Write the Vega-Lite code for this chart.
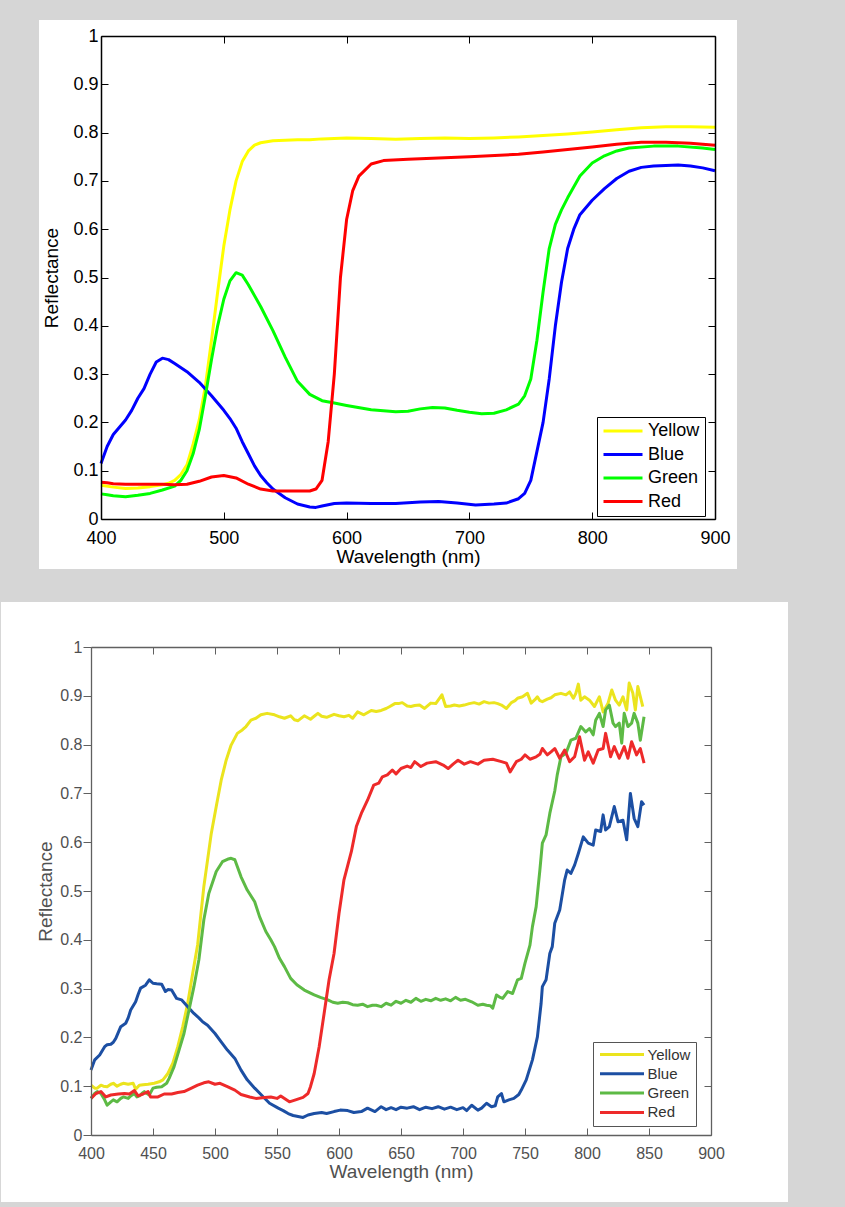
{
"$schema": "https://vega.github.io/schema/vega-lite/v6.json",
"background": "#d6d6d6",
"padding": {"left": 0, "top": 20, "right": 58, "bottom": 5},
"spacing": 33,
"config": {"view": {"stroke": null}, "font": "Liberation Sans", "axis": {"grid": false, "zindex": 1, "labelFont": "Liberation Sans", "titleFont": "Liberation Sans", "titleFontWeight": "normal"}, "legend": {"labelFont": "Liberation Sans"}},
"resolve": {"scale": {"color": "independent"}, "legend": {"color": "independent"}},
"datasets": {
"top": [
{"s":"Yellow","w":400,"r":0.070},{"s":"Yellow","w":410,"r":0.066},{"s":"Yellow","w":420,"r":0.063},{"s":"Yellow","w":430,"r":0.064},{"s":"Yellow","w":440,"r":0.067},{"s":"Yellow","w":450,"r":0.071},{"s":"Yellow","w":455,"r":0.074},{"s":"Yellow","w":460,"r":0.080},{"s":"Yellow","w":465,"r":0.092},{"s":"Yellow","w":470,"r":0.112},{"s":"Yellow","w":475,"r":0.155},{"s":"Yellow","w":480,"r":0.205},{"s":"Yellow","w":485,"r":0.275},{"s":"Yellow","w":490,"r":0.37},{"s":"Yellow","w":495,"r":0.47},{"s":"Yellow","w":500,"r":0.565},{"s":"Yellow","w":505,"r":0.64},{"s":"Yellow","w":510,"r":0.70},{"s":"Yellow","w":515,"r":0.74},{"s":"Yellow","w":520,"r":0.762},{"s":"Yellow","w":525,"r":0.774},{"s":"Yellow","w":530,"r":0.779},{"s":"Yellow","w":540,"r":0.783},{"s":"Yellow","w":550,"r":0.784},{"s":"Yellow","w":560,"r":0.785},{"s":"Yellow","w":570,"r":0.785},{"s":"Yellow","w":580,"r":0.787},{"s":"Yellow","w":590,"r":0.788},{"s":"Yellow","w":600,"r":0.789},{"s":"Yellow","w":620,"r":0.788},{"s":"Yellow","w":640,"r":0.786},{"s":"Yellow","w":660,"r":0.788},{"s":"Yellow","w":680,"r":0.789},{"s":"Yellow","w":700,"r":0.788},{"s":"Yellow","w":720,"r":0.789},{"s":"Yellow","w":740,"r":0.791},{"s":"Yellow","w":760,"r":0.794},{"s":"Yellow","w":780,"r":0.797},{"s":"Yellow","w":800,"r":0.801},{"s":"Yellow","w":820,"r":0.806},{"s":"Yellow","w":840,"r":0.810},{"s":"Yellow","w":860,"r":0.812},{"s":"Yellow","w":880,"r":0.812},{"s":"Yellow","w":900,"r":0.811},
{"s":"Blue","w":400,"r":0.115},{"s":"Blue","w":405,"r":0.15},{"s":"Blue","w":410,"r":0.175},{"s":"Blue","w":415,"r":0.19},{"s":"Blue","w":420,"r":0.205},{"s":"Blue","w":425,"r":0.225},{"s":"Blue","w":430,"r":0.25},{"s":"Blue","w":435,"r":0.27},{"s":"Blue","w":440,"r":0.30},{"s":"Blue","w":445,"r":0.325},{"s":"Blue","w":450,"r":0.333},{"s":"Blue","w":455,"r":0.330},{"s":"Blue","w":460,"r":0.322},{"s":"Blue","w":470,"r":0.305},{"s":"Blue","w":480,"r":0.283},{"s":"Blue","w":490,"r":0.255},{"s":"Blue","w":500,"r":0.225},{"s":"Blue","w":505,"r":0.208},{"s":"Blue","w":510,"r":0.188},{"s":"Blue","w":515,"r":0.16},{"s":"Blue","w":520,"r":0.135},{"s":"Blue","w":525,"r":0.11},{"s":"Blue","w":530,"r":0.09},{"s":"Blue","w":535,"r":0.075},{"s":"Blue","w":540,"r":0.062},{"s":"Blue","w":550,"r":0.044},{"s":"Blue","w":560,"r":0.031},{"s":"Blue","w":570,"r":0.025},{"s":"Blue","w":575,"r":0.024},{"s":"Blue","w":580,"r":0.027},{"s":"Blue","w":590,"r":0.032},{"s":"Blue","w":600,"r":0.033},{"s":"Blue","w":620,"r":0.032},{"s":"Blue","w":640,"r":0.032},{"s":"Blue","w":660,"r":0.035},{"s":"Blue","w":675,"r":0.036},{"s":"Blue","w":690,"r":0.033},{"s":"Blue","w":705,"r":0.029},{"s":"Blue","w":720,"r":0.031},{"s":"Blue","w":730,"r":0.033},{"s":"Blue","w":740,"r":0.042},{"s":"Blue","w":745,"r":0.053},{"s":"Blue","w":750,"r":0.08},{"s":"Blue","w":755,"r":0.14},{"s":"Blue","w":760,"r":0.20},{"s":"Blue","w":765,"r":0.29},{"s":"Blue","w":770,"r":0.40},{"s":"Blue","w":775,"r":0.49},{"s":"Blue","w":780,"r":0.56},{"s":"Blue","w":785,"r":0.60},{"s":"Blue","w":790,"r":0.63},{"s":"Blue","w":800,"r":0.66},{"s":"Blue","w":810,"r":0.684},{"s":"Blue","w":820,"r":0.705},{"s":"Blue","w":830,"r":0.72},{"s":"Blue","w":840,"r":0.728},{"s":"Blue","w":850,"r":0.731},{"s":"Blue","w":860,"r":0.732},{"s":"Blue","w":870,"r":0.733},{"s":"Blue","w":880,"r":0.731},{"s":"Blue","w":890,"r":0.727},{"s":"Blue","w":900,"r":0.721},
{"s":"Green","w":400,"r":0.052},{"s":"Green","w":405,"r":0.050},{"s":"Green","w":410,"r":0.048},{"s":"Green","w":420,"r":0.046},{"s":"Green","w":430,"r":0.049},{"s":"Green","w":440,"r":0.053},{"s":"Green","w":450,"r":0.060},{"s":"Green","w":460,"r":0.068},{"s":"Green","w":465,"r":0.080},{"s":"Green","w":470,"r":0.10},{"s":"Green","w":475,"r":0.135},{"s":"Green","w":480,"r":0.185},{"s":"Green","w":485,"r":0.255},{"s":"Green","w":490,"r":0.33},{"s":"Green","w":495,"r":0.40},{"s":"Green","w":500,"r":0.455},{"s":"Green","w":505,"r":0.493},{"s":"Green","w":510,"r":0.510},{"s":"Green","w":515,"r":0.505},{"s":"Green","w":520,"r":0.485},{"s":"Green","w":530,"r":0.44},{"s":"Green","w":540,"r":0.39},{"s":"Green","w":550,"r":0.335},{"s":"Green","w":560,"r":0.285},{"s":"Green","w":570,"r":0.258},{"s":"Green","w":580,"r":0.245},{"s":"Green","w":590,"r":0.240},{"s":"Green","w":600,"r":0.235},{"s":"Green","w":620,"r":0.226},{"s":"Green","w":640,"r":0.222},{"s":"Green","w":650,"r":0.223},{"s":"Green","w":660,"r":0.228},{"s":"Green","w":670,"r":0.231},{"s":"Green","w":680,"r":0.230},{"s":"Green","w":690,"r":0.225},{"s":"Green","w":700,"r":0.221},{"s":"Green","w":710,"r":0.218},{"s":"Green","w":720,"r":0.219},{"s":"Green","w":730,"r":0.226},{"s":"Green","w":740,"r":0.238},{"s":"Green","w":745,"r":0.255},{"s":"Green","w":750,"r":0.29},{"s":"Green","w":755,"r":0.37},{"s":"Green","w":760,"r":0.47},{"s":"Green","w":765,"r":0.56},{"s":"Green","w":770,"r":0.61},{"s":"Green","w":775,"r":0.64},{"s":"Green","w":780,"r":0.665},{"s":"Green","w":790,"r":0.71},{"s":"Green","w":800,"r":0.737},{"s":"Green","w":810,"r":0.752},{"s":"Green","w":820,"r":0.762},{"s":"Green","w":830,"r":0.768},{"s":"Green","w":850,"r":0.772},{"s":"Green","w":870,"r":0.772},{"s":"Green","w":890,"r":0.768},{"s":"Green","w":900,"r":0.765},
{"s":"Red","w":400,"r":0.076},{"s":"Red","w":405,"r":0.075},{"s":"Red","w":410,"r":0.073},{"s":"Red","w":420,"r":0.072},{"s":"Red","w":430,"r":0.072},{"s":"Red","w":440,"r":0.072},{"s":"Red","w":450,"r":0.072},{"s":"Red","w":460,"r":0.071},{"s":"Red","w":470,"r":0.072},{"s":"Red","w":480,"r":0.078},{"s":"Red","w":490,"r":0.087},{"s":"Red","w":500,"r":0.090},{"s":"Red","w":510,"r":0.085},{"s":"Red","w":520,"r":0.072},{"s":"Red","w":530,"r":0.062},{"s":"Red","w":540,"r":0.058},{"s":"Red","w":550,"r":0.058},{"s":"Red","w":560,"r":0.058},{"s":"Red","w":570,"r":0.058},{"s":"Red","w":575,"r":0.062},{"s":"Red","w":580,"r":0.080},{"s":"Red","w":585,"r":0.16},{"s":"Red","w":590,"r":0.30},{"s":"Red","w":595,"r":0.50},{"s":"Red","w":600,"r":0.62},{"s":"Red","w":605,"r":0.68},{"s":"Red","w":610,"r":0.71},{"s":"Red","w":620,"r":0.735},{"s":"Red","w":630,"r":0.742},{"s":"Red","w":650,"r":0.745},{"s":"Red","w":700,"r":0.750},{"s":"Red","w":740,"r":0.755},{"s":"Red","w":760,"r":0.760},{"s":"Red","w":780,"r":0.765},{"s":"Red","w":800,"r":0.770},{"s":"Red","w":820,"r":0.776},{"s":"Red","w":840,"r":0.780},{"s":"Red","w":860,"r":0.780},{"s":"Red","w":880,"r":0.778},{"s":"Red","w":900,"r":0.774}
],
"bottom": [
{"s":"Yellow","w":400,"r":0.102},{"s":"Yellow","w":403,"r":0.096},{"s":"Yellow","w":405,"r":0.096},{"s":"Yellow","w":408,"r":0.102},{"s":"Yellow","w":410,"r":0.100},{"s":"Yellow","w":413,"r":0.099},{"s":"Yellow","w":416,"r":0.104},{"s":"Yellow","w":418,"r":0.106},{"s":"Yellow","w":421,"r":0.100},{"s":"Yellow","w":424,"r":0.104},{"s":"Yellow","w":426,"r":0.106},{"s":"Yellow","w":430,"r":0.104},{"s":"Yellow","w":434,"r":0.106},{"s":"Yellow","w":436,"r":0.094},{"s":"Yellow","w":439,"r":0.102},{"s":"Yellow","w":442,"r":0.103},{"s":"Yellow","w":446,"r":0.104},{"s":"Yellow","w":451,"r":0.106},{"s":"Yellow","w":455,"r":0.109},{"s":"Yellow","w":458,"r":0.113},{"s":"Yellow","w":462,"r":0.126},{"s":"Yellow","w":466,"r":0.147},{"s":"Yellow","w":470,"r":0.181},{"s":"Yellow","w":474,"r":0.222},{"s":"Yellow","w":478,"r":0.270},{"s":"Yellow","w":482,"r":0.331},{"s":"Yellow","w":486,"r":0.39},{"s":"Yellow","w":491,"r":0.509},{"s":"Yellow","w":497,"r":0.618},{"s":"Yellow","w":501,"r":0.673},{"s":"Yellow","w":505,"r":0.727},{"s":"Yellow","w":509,"r":0.768},{"s":"Yellow","w":513,"r":0.799},{"s":"Yellow","w":518,"r":0.823},{"s":"Yellow","w":522,"r":0.830},{"s":"Yellow","w":525,"r":0.837},{"s":"Yellow","w":529,"r":0.850},{"s":"Yellow","w":533,"r":0.854},{"s":"Yellow","w":537,"r":0.861},{"s":"Yellow","w":542,"r":0.864},{"s":"Yellow","w":548,"r":0.861},{"s":"Yellow","w":552,"r":0.857},{"s":"Yellow","w":556,"r":0.854},{"s":"Yellow","w":561,"r":0.859},{"s":"Yellow","w":564,"r":0.851},{"s":"Yellow","w":567,"r":0.849},{"s":"Yellow","w":572,"r":0.859},{"s":"Yellow","w":577,"r":0.852},{"s":"Yellow","w":580,"r":0.858},{"s":"Yellow","w":583,"r":0.864},{"s":"Yellow","w":586,"r":0.858},{"s":"Yellow","w":590,"r":0.856},{"s":"Yellow","w":596,"r":0.862},{"s":"Yellow","w":600,"r":0.859},{"s":"Yellow","w":604,"r":0.857},{"s":"Yellow","w":608,"r":0.860},{"s":"Yellow","w":611,"r":0.854},{"s":"Yellow","w":615,"r":0.867},{"s":"Yellow","w":620,"r":0.861},{"s":"Yellow","w":626,"r":0.870},{"s":"Yellow","w":630,"r":0.868},{"s":"Yellow","w":634,"r":0.870},{"s":"Yellow","w":638,"r":0.874},{"s":"Yellow","w":641,"r":0.878},{"s":"Yellow","w":645,"r":0.884},{"s":"Yellow","w":648,"r":0.884},{"s":"Yellow","w":651,"r":0.886},{"s":"Yellow","w":655,"r":0.879},{"s":"Yellow","w":658,"r":0.878},{"s":"Yellow","w":661,"r":0.880},{"s":"Yellow","w":665,"r":0.881},{"s":"Yellow","w":669,"r":0.874},{"s":"Yellow","w":674,"r":0.885},{"s":"Yellow","w":678,"r":0.884},{"s":"Yellow","w":683,"r":0.902},{"s":"Yellow","w":686,"r":0.878},{"s":"Yellow","w":690,"r":0.879},{"s":"Yellow","w":693,"r":0.881},{"s":"Yellow","w":697,"r":0.879},{"s":"Yellow","w":701,"r":0.881},{"s":"Yellow","w":705,"r":0.884},{"s":"Yellow","w":709,"r":0.886},{"s":"Yellow","w":713,"r":0.883},{"s":"Yellow","w":717,"r":0.888},{"s":"Yellow","w":721,"r":0.885},{"s":"Yellow","w":725,"r":0.886},{"s":"Yellow","w":728,"r":0.884},{"s":"Yellow","w":731,"r":0.881},{"s":"Yellow","w":735,"r":0.874},{"s":"Yellow","w":737,"r":0.880},{"s":"Yellow","w":739,"r":0.886},{"s":"Yellow","w":742,"r":0.890},{"s":"Yellow","w":744,"r":0.895},{"s":"Yellow","w":748,"r":0.898},{"s":"Yellow","w":752,"r":0.905},{"s":"Yellow","w":755,"r":0.885},{"s":"Yellow","w":758,"r":0.892},{"s":"Yellow","w":760,"r":0.898},{"s":"Yellow","w":762,"r":0.890},{"s":"Yellow","w":764,"r":0.888},{"s":"Yellow","w":768,"r":0.893},{"s":"Yellow","w":771,"r":0.896},{"s":"Yellow","w":774,"r":0.902},{"s":"Yellow","w":779,"r":0.905},{"s":"Yellow","w":783,"r":0.902},{"s":"Yellow","w":786,"r":0.908},{"s":"Yellow","w":789,"r":0.895},{"s":"Yellow","w":791,"r":0.905},{"s":"Yellow","w":793,"r":0.924},{"s":"Yellow","w":795,"r":0.891},{"s":"Yellow","w":798,"r":0.898},{"s":"Yellow","w":802,"r":0.891},{"s":"Yellow","w":806,"r":0.878},{"s":"Yellow","w":810,"r":0.898},{"s":"Yellow","w":813,"r":0.867},{"s":"Yellow","w":817,"r":0.885},{"s":"Yellow","w":820,"r":0.912},{"s":"Yellow","w":823,"r":0.891},{"s":"Yellow","w":826,"r":0.881},{"s":"Yellow","w":829,"r":0.898},{"s":"Yellow","w":832,"r":0.871},{"s":"Yellow","w":834,"r":0.926},{"s":"Yellow","w":837,"r":0.905},{"s":"Yellow","w":839,"r":0.871},{"s":"Yellow","w":841,"r":0.919},{"s":"Yellow","w":845,"r":0.878},
{"s":"Blue","w":400,"r":0.133},{"s":"Blue","w":403,"r":0.154},{"s":"Blue","w":407,"r":0.164},{"s":"Blue","w":411,"r":0.181},{"s":"Blue","w":413,"r":0.185},{"s":"Blue","w":416,"r":0.186},{"s":"Blue","w":418,"r":0.190},{"s":"Blue","w":420,"r":0.198},{"s":"Blue","w":424,"r":0.222},{"s":"Blue","w":428,"r":0.229},{"s":"Blue","w":430,"r":0.240},{"s":"Blue","w":432,"r":0.256},{"s":"Blue","w":436,"r":0.273},{"s":"Blue","w":438,"r":0.288},{"s":"Blue","w":440,"r":0.301},{"s":"Blue","w":444,"r":0.307},{"s":"Blue","w":447,"r":0.318},{"s":"Blue","w":450,"r":0.311},{"s":"Blue","w":453,"r":0.310},{"s":"Blue","w":457,"r":0.309},{"s":"Blue","w":460,"r":0.294},{"s":"Blue","w":462,"r":0.298},{"s":"Blue","w":465,"r":0.297},{"s":"Blue","w":469,"r":0.280},{"s":"Blue","w":473,"r":0.277},{"s":"Blue","w":478,"r":0.263},{"s":"Blue","w":483,"r":0.249},{"s":"Blue","w":487,"r":0.240},{"s":"Blue","w":490,"r":0.232},{"s":"Blue","w":494,"r":0.225},{"s":"Blue","w":500,"r":0.208},{"s":"Blue","w":505,"r":0.191},{"s":"Blue","w":510,"r":0.174},{"s":"Blue","w":516,"r":0.157},{"s":"Blue","w":521,"r":0.133},{"s":"Blue","w":526,"r":0.113},{"s":"Blue","w":532,"r":0.096},{"s":"Blue","w":539,"r":0.078},{"s":"Blue","w":544,"r":0.065},{"s":"Blue","w":551,"r":0.055},{"s":"Blue","w":555,"r":0.050},{"s":"Blue","w":559,"r":0.044},{"s":"Blue","w":563,"r":0.040},{"s":"Blue","w":567,"r":0.038},{"s":"Blue","w":571,"r":0.036},{"s":"Blue","w":575,"r":0.041},{"s":"Blue","w":580,"r":0.044},{"s":"Blue","w":586,"r":0.046},{"s":"Blue","w":590,"r":0.044},{"s":"Blue","w":596,"r":0.048},{"s":"Blue","w":601,"r":0.051},{"s":"Blue","w":607,"r":0.050},{"s":"Blue","w":612,"r":0.046},{"s":"Blue","w":618,"r":0.048},{"s":"Blue","w":623,"r":0.055},{"s":"Blue","w":629,"r":0.048},{"s":"Blue","w":634,"r":0.058},{"s":"Blue","w":638,"r":0.052},{"s":"Blue","w":642,"r":0.056},{"s":"Blue","w":646,"r":0.052},{"s":"Blue","w":650,"r":0.057},{"s":"Blue","w":655,"r":0.055},{"s":"Blue","w":660,"r":0.058},{"s":"Blue","w":665,"r":0.052},{"s":"Blue","w":670,"r":0.057},{"s":"Blue","w":675,"r":0.054},{"s":"Blue","w":680,"r":0.058},{"s":"Blue","w":685,"r":0.053},{"s":"Blue","w":690,"r":0.057},{"s":"Blue","w":695,"r":0.052},{"s":"Blue","w":700,"r":0.056},{"s":"Blue","w":703,"r":0.050},{"s":"Blue","w":707,"r":0.061},{"s":"Blue","w":712,"r":0.051},{"s":"Blue","w":715,"r":0.055},{"s":"Blue","w":719,"r":0.065},{"s":"Blue","w":723,"r":0.058},{"s":"Blue","w":726,"r":0.060},{"s":"Blue","w":728,"r":0.078},{"s":"Blue","w":731,"r":0.085},{"s":"Blue","w":733,"r":0.068},{"s":"Blue","w":737,"r":0.072},{"s":"Blue","w":741,"r":0.075},{"s":"Blue","w":745,"r":0.083},{"s":"Blue","w":747,"r":0.092},{"s":"Blue","w":751,"r":0.113},{"s":"Blue","w":756,"r":0.154},{"s":"Blue","w":760,"r":0.201},{"s":"Blue","w":763,"r":0.270},{"s":"Blue","w":764,"r":0.304},{"s":"Blue","w":767,"r":0.318},{"s":"Blue","w":770,"r":0.372},{"s":"Blue","w":772,"r":0.386},{"s":"Blue","w":774,"r":0.434},{"s":"Blue","w":778,"r":0.461},{"s":"Blue","w":782,"r":0.523},{"s":"Blue","w":784,"r":0.543},{"s":"Blue","w":787,"r":0.536},{"s":"Blue","w":790,"r":0.553},{"s":"Blue","w":793,"r":0.577},{"s":"Blue","w":797,"r":0.611},{"s":"Blue","w":801,"r":0.598},{"s":"Blue","w":805,"r":0.594},{"s":"Blue","w":807,"r":0.625},{"s":"Blue","w":811,"r":0.622},{"s":"Blue","w":813,"r":0.656},{"s":"Blue","w":815,"r":0.625},{"s":"Blue","w":818,"r":0.632},{"s":"Blue","w":822,"r":0.673},{"s":"Blue","w":825,"r":0.642},{"s":"Blue","w":829,"r":0.645},{"s":"Blue","w":832,"r":0.605},{"s":"Blue","w":835,"r":0.700},{"s":"Blue","w":838,"r":0.649},{"s":"Blue","w":841,"r":0.632},{"s":"Blue","w":844,"r":0.683},{"s":"Blue","w":846,"r":0.676},
{"s":"Green","w":400,"r":0.075},{"s":"Green","w":403,"r":0.085},{"s":"Green","w":405,"r":0.089},{"s":"Green","w":408,"r":0.085},{"s":"Green","w":411,"r":0.072},{"s":"Green","w":413,"r":0.061},{"s":"Green","w":416,"r":0.068},{"s":"Green","w":418,"r":0.072},{"s":"Green","w":421,"r":0.068},{"s":"Green","w":424,"r":0.075},{"s":"Green","w":426,"r":0.078},{"s":"Green","w":430,"r":0.075},{"s":"Green","w":432,"r":0.080},{"s":"Green","w":435,"r":0.085},{"s":"Green","w":437,"r":0.078},{"s":"Green","w":439,"r":0.080},{"s":"Green","w":441,"r":0.085},{"s":"Green","w":443,"r":0.089},{"s":"Green","w":445,"r":0.085},{"s":"Green","w":447,"r":0.082},{"s":"Green","w":450,"r":0.096},{"s":"Green","w":453,"r":0.098},{"s":"Green","w":457,"r":0.099},{"s":"Green","w":461,"r":0.106},{"s":"Green","w":463,"r":0.116},{"s":"Green","w":467,"r":0.140},{"s":"Green","w":471,"r":0.174},{"s":"Green","w":475,"r":0.208},{"s":"Green","w":479,"r":0.256},{"s":"Green","w":483,"r":0.304},{"s":"Green","w":487,"r":0.359},{"s":"Green","w":491,"r":0.441},{"s":"Green","w":495,"r":0.495},{"s":"Green","w":501,"r":0.540},{"s":"Green","w":506,"r":0.560},{"s":"Green","w":510,"r":0.565},{"s":"Green","w":513,"r":0.567},{"s":"Green","w":516,"r":0.564},{"s":"Green","w":521,"r":0.529},{"s":"Green","w":526,"r":0.502},{"s":"Green","w":532,"r":0.478},{"s":"Green","w":536,"r":0.447},{"s":"Green","w":541,"r":0.417},{"s":"Green","w":545,"r":0.400},{"s":"Green","w":548,"r":0.386},{"s":"Green","w":552,"r":0.362},{"s":"Green","w":556,"r":0.345},{"s":"Green","w":561,"r":0.321},{"s":"Green","w":566,"r":0.308},{"s":"Green","w":572,"r":0.297},{"s":"Green","w":580,"r":0.287},{"s":"Green","w":585,"r":0.282},{"s":"Green","w":591,"r":0.277},{"s":"Green","w":595,"r":0.272},{"s":"Green","w":599,"r":0.270},{"s":"Green","w":603,"r":0.272},{"s":"Green","w":607,"r":0.271},{"s":"Green","w":611,"r":0.267},{"s":"Green","w":615,"r":0.266},{"s":"Green","w":619,"r":0.268},{"s":"Green","w":623,"r":0.263},{"s":"Green","w":627,"r":0.266},{"s":"Green","w":630,"r":0.266},{"s":"Green","w":634,"r":0.263},{"s":"Green","w":638,"r":0.270},{"s":"Green","w":642,"r":0.266},{"s":"Green","w":646,"r":0.274},{"s":"Green","w":650,"r":0.270},{"s":"Green","w":654,"r":0.276},{"s":"Green","w":658,"r":0.272},{"s":"Green","w":662,"r":0.280},{"s":"Green","w":666,"r":0.274},{"s":"Green","w":670,"r":0.278},{"s":"Green","w":674,"r":0.275},{"s":"Green","w":678,"r":0.280},{"s":"Green","w":682,"r":0.276},{"s":"Green","w":686,"r":0.279},{"s":"Green","w":690,"r":0.275},{"s":"Green","w":694,"r":0.282},{"s":"Green","w":698,"r":0.276},{"s":"Green","w":702,"r":0.278},{"s":"Green","w":707,"r":0.273},{"s":"Green","w":712,"r":0.266},{"s":"Green","w":716,"r":0.268},{"s":"Green","w":719,"r":0.266},{"s":"Green","w":722,"r":0.265},{"s":"Green","w":724,"r":0.260},{"s":"Green","w":727,"r":0.287},{"s":"Green","w":730,"r":0.282},{"s":"Green","w":732,"r":0.280},{"s":"Green","w":736,"r":0.294},{"s":"Green","w":740,"r":0.290},{"s":"Green","w":744,"r":0.318},{"s":"Green","w":747,"r":0.321},{"s":"Green","w":750,"r":0.352},{"s":"Green","w":754,"r":0.389},{"s":"Green","w":756,"r":0.427},{"s":"Green","w":759,"r":0.468},{"s":"Green","w":762,"r":0.543},{"s":"Green","w":764,"r":0.598},{"s":"Green","w":767,"r":0.615},{"s":"Green","w":770,"r":0.659},{"s":"Green","w":774,"r":0.705},{"s":"Green","w":776,"r":0.738},{"s":"Green","w":779,"r":0.775},{"s":"Green","w":783,"r":0.782},{"s":"Green","w":787,"r":0.809},{"s":"Green","w":791,"r":0.813},{"s":"Green","w":795,"r":0.837},{"s":"Green","w":799,"r":0.826},{"s":"Green","w":802,"r":0.833},{"s":"Green","w":805,"r":0.820},{"s":"Green","w":807,"r":0.850},{"s":"Green","w":810,"r":0.864},{"s":"Green","w":813,"r":0.837},{"s":"Green","w":815,"r":0.871},{"s":"Green","w":818,"r":0.881},{"s":"Green","w":821,"r":0.844},{"s":"Green","w":823,"r":0.837},{"s":"Green","w":826,"r":0.844},{"s":"Green","w":828,"r":0.803},{"s":"Green","w":830,"r":0.864},{"s":"Green","w":833,"r":0.837},{"s":"Green","w":836,"r":0.844},{"s":"Green","w":838,"r":0.864},{"s":"Green","w":841,"r":0.844},{"s":"Green","w":843,"r":0.809},{"s":"Green","w":846,"r":0.857},
{"s":"Red","w":400,"r":0.075},{"s":"Red","w":404,"r":0.085},{"s":"Red","w":408,"r":0.089},{"s":"Red","w":412,"r":0.078},{"s":"Red","w":416,"r":0.082},{"s":"Red","w":422,"r":0.084},{"s":"Red","w":427,"r":0.085},{"s":"Red","w":431,"r":0.084},{"s":"Red","w":435,"r":0.091},{"s":"Red","w":438,"r":0.080},{"s":"Red","w":442,"r":0.084},{"s":"Red","w":446,"r":0.089},{"s":"Red","w":448,"r":0.078},{"s":"Red","w":454,"r":0.078},{"s":"Red","w":459,"r":0.084},{"s":"Red","w":465,"r":0.084},{"s":"Red","w":470,"r":0.087},{"s":"Red","w":475,"r":0.089},{"s":"Red","w":481,"r":0.096},{"s":"Red","w":486,"r":0.102},{"s":"Red","w":491,"r":0.107},{"s":"Red","w":495,"r":0.109},{"s":"Red","w":500,"r":0.104},{"s":"Red","w":504,"r":0.106},{"s":"Red","w":510,"r":0.099},{"s":"Red","w":516,"r":0.092},{"s":"Red","w":521,"r":0.083},{"s":"Red","w":528,"r":0.078},{"s":"Red","w":533,"r":0.075},{"s":"Red","w":540,"r":0.077},{"s":"Red","w":545,"r":0.078},{"s":"Red","w":550,"r":0.075},{"s":"Red","w":553,"r":0.080},{"s":"Red","w":560,"r":0.068},{"s":"Red","w":565,"r":0.072},{"s":"Red","w":571,"r":0.077},{"s":"Red","w":575,"r":0.085},{"s":"Red","w":577,"r":0.099},{"s":"Red","w":580,"r":0.126},{"s":"Red","w":584,"r":0.181},{"s":"Red","w":588,"r":0.249},{"s":"Red","w":592,"r":0.318},{"s":"Red","w":596,"r":0.372},{"s":"Red","w":600,"r":0.454},{"s":"Red","w":604,"r":0.523},{"s":"Red","w":610,"r":0.581},{"s":"Red","w":614,"r":0.632},{"s":"Red","w":618,"r":0.659},{"s":"Red","w":623,"r":0.686},{"s":"Red","w":628,"r":0.717},{"s":"Red","w":632,"r":0.721},{"s":"Red","w":635,"r":0.734},{"s":"Red","w":639,"r":0.738},{"s":"Red","w":643,"r":0.748},{"s":"Red","w":646,"r":0.740},{"s":"Red","w":650,"r":0.751},{"s":"Red","w":655,"r":0.756},{"s":"Red","w":658,"r":0.753},{"s":"Red","w":661,"r":0.765},{"s":"Red","w":666,"r":0.755},{"s":"Red","w":671,"r":0.762},{"s":"Red","w":678,"r":0.765},{"s":"Red","w":684,"r":0.758},{"s":"Red","w":688,"r":0.751},{"s":"Red","w":692,"r":0.760},{"s":"Red","w":696,"r":0.768},{"s":"Red","w":701,"r":0.760},{"s":"Red","w":706,"r":0.765},{"s":"Red","w":712,"r":0.760},{"s":"Red","w":717,"r":0.768},{"s":"Red","w":724,"r":0.770},{"s":"Red","w":731,"r":0.765},{"s":"Red","w":735,"r":0.762},{"s":"Red","w":738,"r":0.744},{"s":"Red","w":743,"r":0.765},{"s":"Red","w":747,"r":0.770},{"s":"Red","w":750,"r":0.779},{"s":"Red","w":754,"r":0.770},{"s":"Red","w":759,"r":0.775},{"s":"Red","w":762,"r":0.780},{"s":"Red","w":764,"r":0.792},{"s":"Red","w":768,"r":0.779},{"s":"Red","w":771,"r":0.785},{"s":"Red","w":774,"r":0.792},{"s":"Red","w":778,"r":0.772},{"s":"Red","w":782,"r":0.789},{"s":"Red","w":786,"r":0.765},{"s":"Red","w":790,"r":0.775},{"s":"Red","w":794,"r":0.816},{"s":"Red","w":798,"r":0.768},{"s":"Red","w":801,"r":0.785},{"s":"Red","w":805,"r":0.762},{"s":"Red","w":809,"r":0.789},{"s":"Red","w":813,"r":0.792},{"s":"Red","w":815,"r":0.823},{"s":"Red","w":819,"r":0.775},{"s":"Red","w":822,"r":0.796},{"s":"Red","w":826,"r":0.772},{"s":"Red","w":830,"r":0.796},{"s":"Red","w":833,"r":0.772},{"s":"Red","w":836,"r":0.806},{"s":"Red","w":840,"r":0.779},{"s":"Red","w":843,"r":0.792},{"s":"Red","w":846,"r":0.762}
]
},
"vconcat": [
{
"width": 614, "height": 483,
"resolve": {"axis": {"x": "independent", "y": "independent"}},
"layer": [
{"data": {"values": [{}]}, "mark": {"type": "rect", "fill": "white"},
 "encoding": {
  "x": {"datum": 349.5, "type": "quantitative", "scale": {"domain": [400, 900], "nice": false, "zero": false}, "axis": null},
  "x2": {"datum": 917.9},
  "y": {"datum": -0.1035, "type": "quantitative", "scale": {"domain": [0, 1], "nice": false, "zero": false}, "axis": null},
  "y2": {"datum": 1.0331}}},
{"data": {"name": "top"}, "mark": {"type": "line", "strokeWidth": 3, "strokeJoin": "round"},
 "encoding": {
  "x": {"field": "w", "type": "quantitative", "scale": {"domain": [400, 900], "nice": false, "zero": false},
   "axis": {"title": "Wavelength (nm)", "zindex": 1, "values": [400, 500, 600, 700, 800, 900], "format": "d", "labelFlush": false, "labelOverlap": false, "labelFontSize": 18, "labelColor": "black", "titleFontSize": 19, "titleColor": "black", "domainColor": "black", "domainWidth": 1.5, "tickColor": "black", "tickWidth": 1, "tickSize": -7, "labelPadding": 17, "titlePadding": 0}},
  "y": {"field": "r", "type": "quantitative", "scale": {"domain": [0, 1], "nice": false, "zero": false},
   "axis": {"title": "Reflectance", "zindex": 1, "values": [0, 0.1, 0.2, 0.3, 0.4, 0.5, 0.6, 0.7, 0.8, 0.9, 1], "format": "~g", "labelOverlap": false, "labelFontSize": 18, "labelColor": "black", "titleFontSize": 19, "titleColor": "black", "domainColor": "black", "domainWidth": 1.5, "tickColor": "black", "tickWidth": 1, "tickSize": -7, "labelPadding": 10, "titlePadding": 11}},
  "color": {"field": "s", "type": "nominal", "sort": ["Yellow", "Blue", "Green", "Red"],
   "scale": {"domain": ["Yellow", "Blue", "Green", "Red"], "range": ["#ffff00", "#0000ff", "#00ff00", "#ff0000"]},
   "legend": {"title": null, "orient": "none", "legendX": 496, "legendY": 381, "symbolType": "stroke", "symbolSize": 1521, "symbolStrokeWidth": 3, "labelFontSize": 18, "labelColor": "black", "padding": 5, "clipHeight": 18, "labelOffset": 4, "rowPadding": 5.5, "strokeColor": "black", "fillColor": "white"}}}},
{"data": {"name": "top"}, "mark": {"type": "line", "strokeOpacity": 0},
 "encoding": {
  "x": {"field": "w", "type": "quantitative", "scale": {"domain": [400, 900], "nice": false, "zero": false},
   "axis": {"orient": "top", "zindex": 1, "title": null, "labels": false, "values": [400, 500, 600, 700, 800, 900], "domainColor": "black", "domainWidth": 1.5, "tickColor": "black", "tickSize": -7}},
  "y": {"field": "r", "type": "quantitative", "scale": {"domain": [0, 1], "nice": false, "zero": false},
   "axis": {"orient": "right", "zindex": 1, "title": null, "labels": false, "values": [0, 0.1, 0.2, 0.3, 0.4, 0.5, 0.6, 0.7, 0.8, 0.9, 1], "domainColor": "black", "domainWidth": 1.5, "tickColor": "black", "tickSize": -7}},
  "detail": {"field": "s"}}}
]
},
{
"width": 610, "height": 488,
"resolve": {"axis": {"x": "independent", "y": "independent"}},
"layer": [
{"data": {"values": [{}]}, "mark": {"type": "rect", "fill": "white"},
 "encoding": {
  "x": {"datum": 327.4, "type": "quantitative", "scale": {"domain": [400, 900], "range": [-10, 610], "nice": false, "zero": false}, "axis": null},
  "x2": {"datum": 962.1},
  "y": {"datum": -0.1373, "type": "quantitative", "scale": {"domain": [0, 1], "nice": false, "zero": false}, "axis": null},
  "y2": {"datum": 1.0922}}},
{"data": {"name": "bottom"}, "mark": {"type": "line", "strokeWidth": 3, "strokeJoin": "round"},
 "encoding": {
  "x": {"field": "w", "type": "quantitative", "scale": {"domain": [400, 900], "range": [-10, 610], "nice": false, "zero": false},
   "axis": {"title": "Wavelength (nm)", "zindex": 1, "values": [400, 450, 500, 550, 600, 650, 700, 750, 800, 850, 900], "format": "d", "labelFlush": false, "labelOverlap": false, "labelFontSize": 16, "labelColor": "#505050", "titleFontSize": 19, "titleColor": "#505050", "domainColor": "#606060", "domainWidth": 1.3, "tickColor": "#606060", "tickWidth": 1, "tickSize": -7, "labelPadding": 17, "titlePadding": 1}},
  "y": {"field": "r", "type": "quantitative", "scale": {"domain": [0, 1], "nice": false, "zero": false},
   "axis": {"title": "Reflectance", "zindex": 1, "offset": 10, "values": [0, 0.1, 0.2, 0.3, 0.4, 0.5, 0.6, 0.7, 0.8, 0.9, 1], "format": "~g", "labelOverlap": false, "labelFontSize": 16, "labelColor": "#505050", "titleFontSize": 19, "titleColor": "#505050", "domainColor": "#606060", "domainWidth": 1.3, "tickColor": "#606060", "tickWidth": 1, "tickSize": 8, "labelPadding": 1, "titlePadding": 4}},
  "color": {"field": "s", "type": "nominal", "sort": ["Yellow", "Blue", "Green", "Red"],
   "scale": {"domain": ["Yellow", "Blue", "Green", "Red"], "range": ["#ebe41e", "#1c4fa3", "#5dba45", "#ee2a2a"]},
   "legend": {"title": null, "orient": "none", "legendX": 492, "legendY": 395, "symbolType": "stroke", "symbolSize": 1936, "symbolStrokeWidth": 3, "labelFontSize": 15, "labelColor": "#333333", "padding": 5.5, "clipHeight": 14, "labelOffset": 2, "rowPadding": 4.3, "strokeColor": "#555555", "fillColor": "white"}}}},
{"data": {"name": "bottom"}, "mark": {"type": "line", "strokeOpacity": 0},
 "encoding": {
  "x": {"field": "w", "type": "quantitative", "scale": {"domain": [400, 900], "range": [-10, 610], "nice": false, "zero": false},
   "axis": {"orient": "top", "zindex": 1, "title": null, "labels": false, "values": [400, 450, 500, 550, 600, 650, 700, 750, 800, 850, 900], "domainColor": "#606060", "domainWidth": 1.3, "tickColor": "#606060", "tickSize": -7}},
  "y": {"field": "r", "type": "quantitative", "scale": {"domain": [0, 1], "nice": false, "zero": false},
   "axis": {"orient": "right", "zindex": 1, "title": null, "labels": false, "values": [0, 0.1, 0.2, 0.3, 0.4, 0.5, 0.6, 0.7, 0.8, 0.9, 1], "domainColor": "#606060", "domainWidth": 1.3, "tickColor": "#606060", "tickSize": -7}},
  "detail": {"field": "s"}}}
]
}
]
}
